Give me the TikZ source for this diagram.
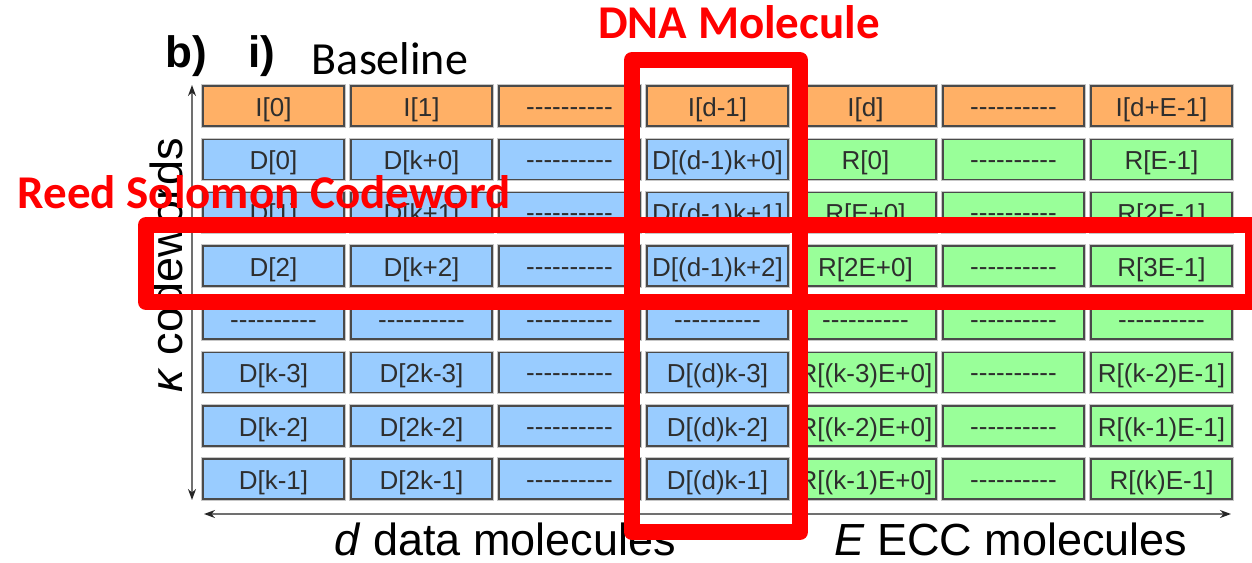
\documentclass[tikz,border=0pt]{standalone}
\usepackage{fontspec}
\setmainfont{Liberation Sans}
\newfontfamily\calibri{Carlito}
\usetikzlibrary{arrows.meta}

\definecolor{idxfill}{HTML}{FFB066}
\definecolor{datafill}{HTML}{99CCFF}
\definecolor{eccfill}{HTML}{99FF99}
\definecolor{cellline}{HTML}{4A4A4A}
\definecolor{celltext}{HTML}{2E2E2E}
\definecolor{axisgray}{HTML}{707070}
\definecolor{hilite}{HTML}{FF0000}

% ten hyphens, kept apart so they never join into dashes
\newcommand\dashrun{\raisebox{1pt}{-{}-{}-{}-{}-{}-{}-{}-{}-{}-}}

\tikzset{
  cell/.style={rectangle, draw=cellline, line width=1.5pt,
    minimum width=141pt, minimum height=40pt, inner sep=0pt,
    text height=24pt, text depth=3.4pt,
    text=celltext, font=\fontsize{26}{30}\selectfont,
    preaction={draw=black!22, line width=3.6pt}},
  datacol/.code={\ifnum#1<4\relax\pgfkeysalso{fill=datafill}\else\pgfkeysalso{fill=eccfill}\fi},
  axis/.style={draw=axisgray, line width=1.6pt,
    {Stealth[length=11pt,width=8pt,black!85]}-{Stealth[length=11pt,width=8pt,black!85]}},
  redbox/.style={draw=hilite, line width=16pt, line join=round},
  redlabel/.style={text=hilite, font=\calibri\bfseries\fontsize{47}{50}\selectfont, inner sep=0pt, anchor=base},
  axlabel/.style={font=\fontsize{45}{50}\selectfont, inner sep=0pt, anchor=base},
}

% one row of seven cells: #1 row index, #2 fill style, #3 the seven texts
\newcommand\cellrow[3]{%
  \foreach \t [count=\i from 0] in {#3} {%
    \node[cell, #2] (c-#1-\i) at (273.5+148*\i, 106+53.3*#1) {\t};
  }%
}

\begin{document}
\begin{tikzpicture}[x=1pt, y=-1pt]
\useasboundingbox (0,0) rectangle (1252,562);

% headings
\node[font=\bfseries\fontsize{44}{46}\selectfont, inner sep=0pt, anchor=base] (lblb) at (186,67) {b)};
\node[font=\bfseries\fontsize{44}{46}\selectfont, inner sep=0pt, anchor=base] (lbli) at (262,67) {i)};
\node[font=\calibri\fontsize{46}{48}\selectfont, inner sep=0pt, anchor=base] (base) at (390,74) {Baseline};

% axes
\coordinate (vtop) at (192,85);
\coordinate (vbot) at (192,500);
\coordinate (hl) at (204,514);
\coordinate (hr) at (1231,514);
\draw[axis] (vtop) -- (vbot);
\draw[axis] (hl) -- (hr);

% grid of molecules
\cellrow{0}{fill=idxfill}{I[0],I[1],\dashrun,I[d-1],I[d],\dashrun,I[d+E-1]}
\cellrow{1}{datacol=\i}{D[0],D[k+0],\dashrun,D[(d-1)k+0],R[0],\dashrun,R[E-1]}
\cellrow{2}{datacol=\i}{D[1],D[k+1],\dashrun,D[(d-1)k+1],R[E+0],\dashrun,R[2E-1]}
\cellrow{3}{datacol=\i}{D[2],D[k+2],\dashrun,D[(d-1)k+2],R[2E+0],\dashrun,R[3E-1]}
\cellrow{4}{datacol=\i}{\dashrun,\dashrun,\dashrun,\dashrun,\dashrun,\dashrun,\dashrun}
\cellrow{5}{datacol=\i}{D[k-3],D[2k-3],\dashrun,D[(d)k-3],R[(k-3)E+0],\dashrun,R[(k-2)E-1]}
\cellrow{6}{datacol=\i}{D[k-2],D[2k-2],\dashrun,D[(d)k-2],R[(k-2)E+0],\dashrun,R[(k-1)E-1]}
\cellrow{7}{datacol=\i}{D[k-1],D[2k-1],\dashrun,D[(d)k-1],R[(k-1)E+0],\dashrun,R[(k)E-1]}

% axis labels
\node[axlabel, rotate=90] (kcw) at (182,265) {\textit{κ} codewords};
\node[axlabel] (dmol) at (505,555) {\textit{d} data molecules};
\node[axlabel] (emol) at (1011,555) {\textit{E} ECC molecules};

% highlights
\draw[redbox] (632,60) rectangle (800,532);
\draw[redbox] (146,225) rectangle (1253,302);
\node[redlabel] (dna) at (739,38) {DNA Molecule};
\node[redlabel] (rs) at (264,208) {Reed Solomon Codeword};
\end{tikzpicture}
\end{document}
